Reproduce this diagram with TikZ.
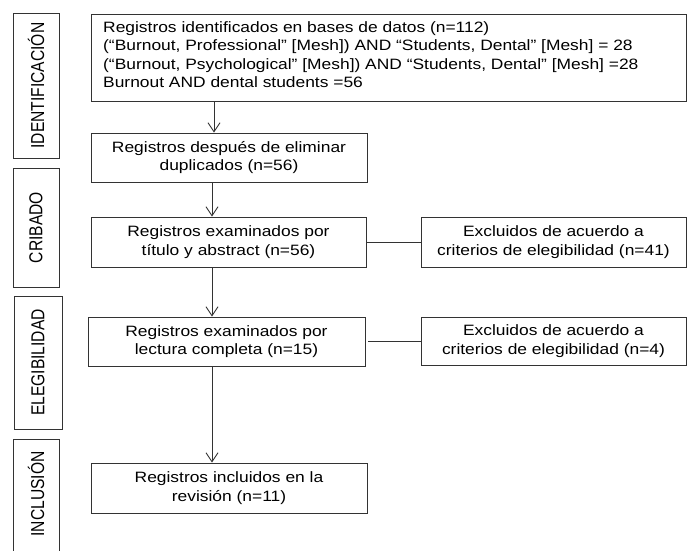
\documentclass[tikz,border=0pt]{standalone}
\usepackage{fontspec}
\setmainfont{Liberation Sans}[FakeStretch=1.16]
\newfontfamily\labelfont{Liberation Sans}
\usetikzlibrary{arrows.meta}
\begin{document}
\begin{tikzpicture}[x=1pt,y=-1pt,
  line/.style={draw=black!80,line width=0.9pt},
  box/.style={line,rectangle,inner sep=0pt,align=center,font=\fontsize{15}{18.4}\selectfont},
  side/.style={line,rectangle,inner sep=0pt},
  sidelabel/.style={rotate=90,inner sep=0pt,font=\labelfont\fontsize{15.6}{18}\selectfont},
  arr/.style={line,-{Straight Barb[length=9pt,width=12pt,line width=0.9pt]}}]
\useasboundingbox (0,0) rectangle (688,550);
% side boxes
\node[side,minimum width=46pt,minimum height=145pt] (sid) at (36,85.5) {};
\node[sidelabel] at (sid.center) {\scalebox{1}[1.2]{IDENTIFICACIÓN}};
\node[side,minimum width=46pt,minimum height=119pt] (scr) at (36,227.5) {};
\node[sidelabel] at (scr.center) {\scalebox{1}[1.2]{CRIBADO}};
\node[side,minimum width=48pt,minimum height=133pt] (sel) at (38,362.5) {};
\node[sidelabel] at (sel.center) {\scalebox{1}[1.2]{ELEGIBILIDAD}};
\node[side,minimum width=46pt,minimum height=125pt] (sin) at (36,501.5) {};
\node[sidelabel] at (36,494) {\scalebox{1}[1.2]{INCLUSIÓN}};
% main boxes
\node[box,minimum width=595pt,minimum height=87pt] (b1) at (388.5,57.5) {};
\node[anchor=north west,inner sep=0pt,align=left,font=\fontsize{15}{18.4}\selectfont] (t1) at (103,21.5) {Registros identificados en bases de datos (n=112)\\
(“Burnout, Professional” [Mesh]) AND “Students, Dental” [Mesh] = 28\\
(“Burnout, Psychological” [Mesh]) AND “Students, Dental” [Mesh] =28\\
Burnout AND dental students =56};
\node[box,minimum width=276pt,minimum height=49pt] (b2) at (229,157.5) {Registros después de eliminar\\duplicados (n=56)};
\node[box,minimum width=275pt,minimum height=50pt] (b3) at (228.5,242) {Registros examinados por\\título y abstract (n=56)};
\node[box,minimum width=277pt,minimum height=49pt] (b4) at (226.5,341.5) {Registros examinados por\\lectura completa (n=15)};
\node[box,minimum width=276pt,minimum height=50pt] (b5) at (229,488) {Registros incluidos en la\\revisión (n=11)};
\node[box,minimum width=265pt,minimum height=50pt] (e1) at (553.5,242) {Excluidos de acuerdo a\\criterios de elegibilidad (n=41)};
\node[box,minimum width=265pt,minimum height=48pt] (e2) at (553.5,341) {Excluidos de acuerdo a\\criterios de elegibilidad (n=4)};
% connectors
\coordinate (xa) at (214,0);
\coordinate (xb) at (212,0);
\draw[arr] (b1.south -| xa) -- (b2.north -| xa);
\draw[arr] (b2.south -| xb) -- (b3.north -| xb);
\draw[arr] (b3.south -| xb) -- (b4.north -| xb);
\draw[arr] (b4.south -| xb) -- (b5.north -| xb);
\draw[line] (b3.east) -- (e1.west);
\draw[line] ([xshift=3pt]b4.east |- e2.west) -- (e2.west);
\end{tikzpicture}
\end{document}
